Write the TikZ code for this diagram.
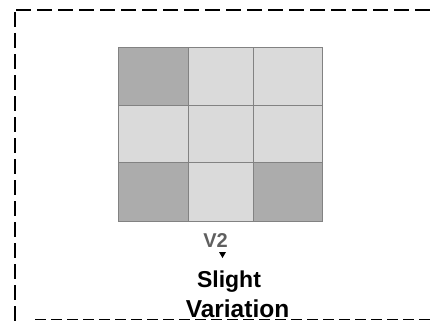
\documentclass[tikz,border=0pt]{standalone}
\usepackage{fontspec}
\setmainfont{Liberation Sans}
\definecolor{celldark}{RGB}{172,172,172}
\definecolor{celllight}{RGB}{218,218,218}
\definecolor{cellline}{RGB}{130,130,130}
\definecolor{vgray}{RGB}{95,95,95}
\begin{document}
\begin{tikzpicture}[x=1pt,y=-1pt]
\tikzstyle{every node}+=[inner sep=0pt]
\tikzstyle{frame}=[black, line width=1.7pt, dash pattern=on 15pt off 6pt]
\tikzstyle{framelow}=[black, line width=1.7pt, dash pattern=on 11pt off 5pt]
\tikzstyle{caption}=[font=\bfseries\fontsize{23}{25}\selectfont, anchor=base]
\useasboundingbox (0,0) rectangle (435,321);
% dashed frame
\draw [frame] (16,10) -- (435,10);
\draw [frame] (15,12) -- (15,321);
\draw [framelow] (35,319.5) -- (435,319.5);
% grid cells
\fill [celllight] (118,47) rectangle (322,221);
\fill [celldark] (118,47) rectangle (188,105);
\fill [celldark] (118,162) rectangle (188,221);
\fill [celldark] (253,162) rectangle (322,221);
\draw [cellline, line width=0.7pt] (118,47) rectangle (322,221);
\draw [cellline, line width=0.7pt] (188,47) -- (188,221);
\draw [cellline, line width=0.7pt] (253,47) -- (253,221);
\draw [cellline, line width=0.7pt] (118,105) -- (322,105);
\draw [cellline, line width=0.7pt] (118,162) -- (322,162);
% labels
\node [caption, text=vgray, font=\bfseries\fontsize{20}{22}\selectfont] (vtwo) at (215.5,247) {V2};
\fill [black] (219,252) -- (226,252) -- (222.5,258) -- cycle;
\node [caption] (slight) at (229,287) {Slight};
\node [caption, font=\bfseries\fontsize{24.5}{26}\selectfont] (variation) at (237.5,317) {Variation};
\end{tikzpicture}
\end{document}
